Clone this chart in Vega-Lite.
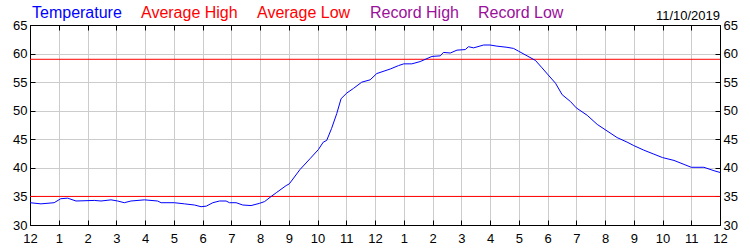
{
  "$schema": "https://vega.github.io/schema/vega-lite/v6.json",
  "width": 690,
  "height": 200,
  "autosize": "none",
  "padding": {"left": 30, "top": 25, "right": 30, "bottom": 25},
  "background": "white",
  "title": {"text": "11/10/2019", "anchor": "end", "orient": "top", "frame": "group", "fontSize": 13, "fontWeight": "normal", "font": "Liberation Sans", "color": "black", "baseline": "alphabetic", "offset": 8, "dy": 36},
  "config": {
    "view": {"stroke": "black", "strokeWidth": 1},
    "font": "Liberation Sans",
    "axis": {"labelFont": "Liberation Sans", "labelFontSize": 13, "labelColor": "black", "domainColor": "black", "tickColor": "black", "gridColor": "#cccccc", "gridOpacity": 1, "tickSize": -5, "title": null, "labelPadding": 8}
  },
  "layer": [
    {
      "data": {"values": [
        {"series": "Average High", "value": 59, "start": 0, "end": 24},
        {"series": "Average Low", "value": 35, "start": 0, "end": 24}
      ]},
      "mark": {"type": "rule", "strokeWidth": 1},
      "encoding": {
        "x": {"field": "start", "type": "quantitative", "scale": {"domain": [0, 24], "nice": false}, "axis": {"orient": "top", "labels": false, "grid": false, "values": [0,1,2,3,4,5,6,7,8,9,10,11,12,13,14,15,16,17,18,19,20,21,22,23,24]}},
        "x2": {"field": "end"},
        "y": {"field": "value", "type": "quantitative", "scale": {"domain": [30, 65], "nice": false}, "axis": {"orient": "right", "grid": false, "values": [30,35,40,45,50,55,60,65]}},
        "color": {
          "field": "series", "type": "nominal",
          "scale": {"domain": ["Temperature", "Average High", "Average Low", "Record High", "Record Low"], "range": ["#0000ff", "#ff0000", "#ff0000", "#9a109a", "#9a109a"]},
          "legend": {"orient": "none", "direction": "horizontal", "legendX": -14, "legendY": -20, "title": null, "symbolType": "circle", "symbolSize": 0, "symbolStrokeWidth": 0, "symbolOpacity": 0, "labelOffset": 0, "columnPadding": 3, "padding": 0, "labelFontSize": 16, "labelFont": "Liberation Sans", "labelLimit": 300,
            "encode": {"labels": {"update": {"fill": {"scale": "color", "field": "value"}}}}}
        }
      }
    },
    {
      "data": {"values": [
        {"hour": 0, "temp": 33.9}, {"hour": 0.38, "temp": 33.7}, {"hour": 0.84, "temp": 33.9}, {"hour": 1.07, "temp": 34.6}, {"hour": 1.31, "temp": 34.7}, {"hour": 1.6, "temp": 34.2}, {"hour": 2.24, "temp": 34.3}, {"hour": 2.47, "temp": 34.2}, {"hour": 2.82, "temp": 34.4}, {"hour": 3.05, "temp": 34.2}, {"hour": 3.28, "temp": 33.9}, {"hour": 3.51, "temp": 34.2}, {"hour": 3.98, "temp": 34.4}, {"hour": 4.44, "temp": 34.2}, {"hour": 4.56, "temp": 33.9}, {"hour": 5.02, "temp": 33.9}, {"hour": 5.37, "temp": 33.7}, {"hour": 5.72, "temp": 33.5}, {"hour": 5.95, "temp": 33.2}, {"hour": 6.13, "temp": 33.3}, {"hour": 6.36, "temp": 33.9}, {"hour": 6.59, "temp": 34.2}, {"hour": 6.82, "temp": 34.2}, {"hour": 6.94, "temp": 33.9}, {"hour": 7.17, "temp": 33.9}, {"hour": 7.4, "temp": 33.5}, {"hour": 7.69, "temp": 33.4}, {"hour": 7.99, "temp": 33.8}, {"hour": 8.16, "temp": 34.1}, {"hour": 8.39, "temp": 35.0}, {"hour": 8.58, "temp": 35.7}, {"hour": 8.91, "temp": 36.9}, {"hour": 9.02, "temp": 37.2}, {"hour": 9.39, "temp": 39.7}, {"hour": 9.74, "temp": 41.6}, {"hour": 10.03, "temp": 43.2}, {"hour": 10.2, "temp": 44.5}, {"hour": 10.32, "temp": 44.8}, {"hour": 10.49, "temp": 46.9}, {"hour": 10.67, "temp": 49.5}, {"hour": 10.82, "temp": 52.1}, {"hour": 11.02, "temp": 53.1}, {"hour": 11.25, "temp": 53.9}, {"hour": 11.54, "temp": 55.0}, {"hour": 11.83, "temp": 55.4}, {"hour": 12.06, "temp": 56.5}, {"hour": 12.53, "temp": 57.3}, {"hour": 12.82, "temp": 57.9}, {"hour": 13.0, "temp": 58.2}, {"hour": 13.28, "temp": 58.2}, {"hour": 13.57, "temp": 58.6}, {"hour": 13.98, "temp": 59.5}, {"hour": 14.27, "temp": 59.6}, {"hour": 14.38, "temp": 60.2}, {"hour": 14.62, "temp": 60.1}, {"hour": 14.85, "temp": 60.6}, {"hour": 15.14, "temp": 60.7}, {"hour": 15.25, "temp": 61.2}, {"hour": 15.43, "temp": 61.0}, {"hour": 15.78, "temp": 61.5}, {"hour": 16.0, "temp": 61.5}, {"hour": 16.24, "temp": 61.3}, {"hour": 16.59, "temp": 61.1}, {"hour": 16.82, "temp": 60.9}, {"hour": 17.0, "temp": 60.4}, {"hour": 17.29, "temp": 59.6}, {"hour": 17.58, "temp": 58.8}, {"hour": 17.81, "temp": 57.5}, {"hour": 18.0, "temp": 56.4}, {"hour": 18.28, "temp": 54.8}, {"hour": 18.51, "temp": 52.8}, {"hour": 18.8, "temp": 51.6}, {"hour": 19.0, "temp": 50.5}, {"hour": 19.38, "temp": 49.2}, {"hour": 19.73, "temp": 47.6}, {"hour": 20.0, "temp": 46.7}, {"hour": 20.42, "temp": 45.3}, {"hour": 20.77, "temp": 44.5}, {"hour": 21.0, "temp": 43.9}, {"hour": 21.35, "temp": 43.1}, {"hour": 21.7, "temp": 42.4}, {"hour": 22.0, "temp": 41.8}, {"hour": 22.4, "temp": 41.3}, {"hour": 22.75, "temp": 40.6}, {"hour": 23.0, "temp": 40.1}, {"hour": 23.44, "temp": 40.1}, {"hour": 23.79, "temp": 39.5}, {"hour": 24.0, "temp": 39.2}
      ]},
      "mark": {"type": "line", "strokeWidth": 1},
      "encoding": {
        "x": {"field": "hour", "type": "quantitative", "scale": {"domain": [0, 24], "nice": false}, "axis": {"orient": "bottom", "grid": true, "labelPadding": 12, "values": [0,1,2,3,4,5,6,7,8,9,10,11,12,13,14,15,16,17,18,19,20,21,22,23,24], "labelExpr": "datum.value % 12 == 0 ? '12' : '' + (datum.value % 12)", "labelFlush": false, "labelOverlap": false}},
        "y": {"field": "temp", "type": "quantitative", "scale": {"domain": [30, 65], "nice": false}, "axis": {"orient": "left", "grid": true, "values": [30,35,40,45,50,55,60,65]}},
        "color": {"datum": "Temperature", "type": "nominal"}
      }
    }
  ],
  "resolve": {"scale": {"x": "independent", "y": "independent"}}
}
